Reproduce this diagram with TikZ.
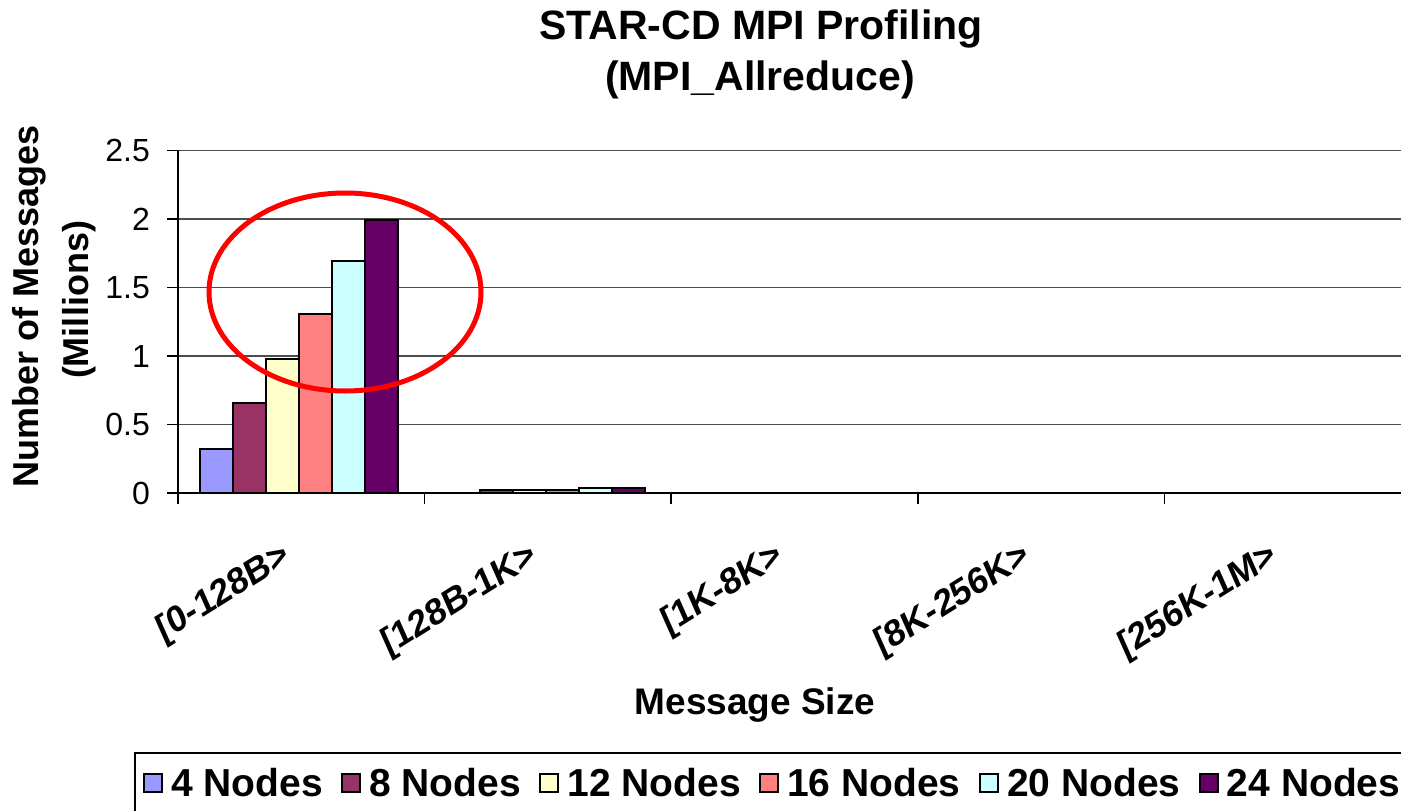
\documentclass[tikz,border=0pt]{standalone}
\usepackage{fontspec}
\setmainfont{Liberation Sans}
\usepackage{xcolor}
\usetikzlibrary{positioning}

\definecolor{nodesA}{HTML}{9999FF}
\definecolor{nodesB}{HTML}{993366}
\definecolor{nodesC}{HTML}{FFFFCC}
\definecolor{nodesD}{HTML}{FF8080}
\definecolor{nodesE}{HTML}{CCFFFF}
\definecolor{nodesF}{HTML}{660066}

\tikzset{
  bar/.style={draw=black, line width=2pt},
  gridline/.style={draw=black!70, line width=1.5pt},
  ticklab/.style={font=\fontsize{32}{38}\selectfont, anchor=east, inner sep=0pt},
  catlab/.style={font=\fontsize{36}{42}\selectfont\bfseries, anchor=base east, inner sep=0pt,
    cm={0.848,0.530,-0.407,0.914,(0,0)}},
  axtitle/.style={font=\fontsize{36}{42}\selectfont\bfseries, inner sep=0pt},
  legkey/.style={draw=black, line width=2pt, minimum size=18pt, inner sep=0pt},
  legtext/.style={font=\fontsize{39}{46}\selectfont\bfseries, inner sep=0pt},
}

\begin{document}
\begin{tikzpicture}[x=1pt, y=-1pt]
\useasboundingbox (0,0) rectangle (1401,811);

% title
\node [font=\fontsize{41}{48}\selectfont\bfseries] (title1) at (761,29) {STAR-CD MPI Profiling};
\node [font=\fontsize{41}{48}\selectfont\bfseries] (title2) at (760,80) {(MPI\_Allreduce)};

% grid and axes
\foreach \v in {0.5,1,1.5,2,2.5}
  \draw [gridline] (178,{493-137*\v}) -- (1401,{493-137*\v});
\foreach \v [count=\i] in {0,0.5,1,1.5,2,2.5} {
  \draw [line width=1.5pt] (167,{493-137*\v}) -- (178,{493-137*\v});
  \node [ticklab] (tick\i) at (150,{493-137*\v}) {\v};
}
\foreach \k in {0,...,4}
  \draw [line width=1.5pt] ({178+246.6*\k},493) -- ({178+246.6*\k},504);
\draw [line width=1.5pt] (178,150) -- (178,493);
\draw [line width=2pt] (178,493) -- (1401,493);

% bars
\foreach \v/\c [count=\i] in {0.32/nodesA,0.66/nodesB,0.98/nodesC,1.31/nodesD,1.69/nodesE,1.99/nodesF}
  \draw [bar, fill=\c] ({200+(\i-1)*33},493) rectangle ({233+(\i-1)*33},{493-137*\v});
\foreach \v/\c [count=\i] in {0.02/nodesB,0.02/nodesC,0.02/nodesD,0.035/nodesE,0.035/nodesF}
  \draw [bar, fill=\c] ({480+(\i-1)*33},493) rectangle ({513+(\i-1)*33},{493-137*\v});

\draw [red, line width=5pt] (345,292) ellipse [x radius=136, y radius=99];

% axis titles
\node [axtitle, rotate=90] (ylab1) at (29,306) {Number of Messages};
\node [axtitle, rotate=90] (ylab2) at (79,300) {(Millions)};
\node [axtitle, font=\fontsize{37}{42}\selectfont\bfseries] (xlab) at (755,705) {Message Size};

% category labels
\node [catlab] (cat1) at (292,562) {[0-128B>};
\node [catlab] (cat2) at (539,562) {[128B-1K>};
\node [catlab] (cat3) at (785,562) {[1K-8K>};
\node [catlab] (cat4) at (1032,562) {[8K-256K>};
\node [catlab] (cat5) at (1279,562) {[256K-1M>};

% legend
\draw [line width=2pt] (135,753) rectangle (1420,830);
\node [legkey, fill=nodesA] (keyA) at (153,783) {};
\node [legtext, right=8pt of keyA] (legA) {4 Nodes};
\node [legkey, fill=nodesB, right=18pt of legA] (keyB) {};
\node [legtext, right=8pt of keyB] (legB) {8 Nodes};
\node [legkey, fill=nodesC, right=18pt of legB] (keyC) {};
\node [legtext, right=8pt of keyC] (legC) {12 Nodes};
\node [legkey, fill=nodesD, right=18pt of legC] (keyD) {};
\node [legtext, right=8pt of keyD] (legD) {16 Nodes};
\node [legkey, fill=nodesE, right=18pt of legD] (keyE) {};
\node [legtext, right=8pt of keyE] (legE) {20 Nodes};
\node [legkey, fill=nodesF, right=18pt of legE] (keyF) {};
\node [legtext, right=8pt of keyF] (legF) {24 Nodes};
\end{tikzpicture}
\end{document}
